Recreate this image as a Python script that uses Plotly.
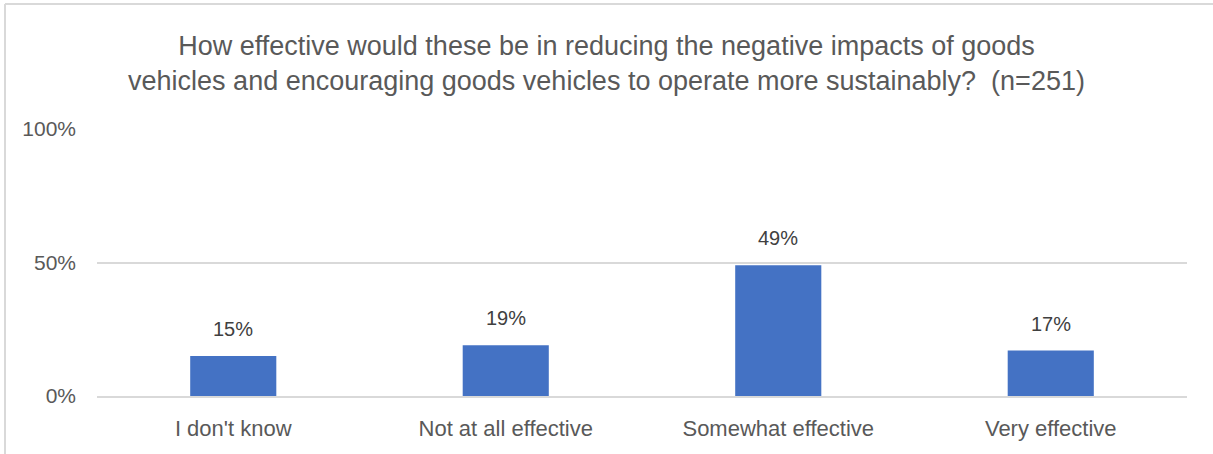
import plotly.graph_objects as go

categories = ["I don't know", "Not at all effective", "Somewhat effective", "Very effective"]
values = [15, 19, 49, 17]
labels = ["15%", "19%", "49%", "17%"]
tick_vals = [0, 50, 100]
tick_text = ["0%", "50%", "100%"]

grey = "#595959"
font = "Liberation Sans"

fig = go.Figure()
fig.add_trace(go.Bar(x=categories, y=values, marker=dict(color="#4472C4", line=dict(width=0)),
                     hoverinfo="skip"))

for c, v, t in zip(categories, values, labels):
    fig.add_annotation(x=c, y=v, text=t, showarrow=False, yanchor="middle", yshift=27,
                       font=dict(size=20, color="#404040", family=font))

fig.update_layout(
    width=1213, height=454,
    paper_bgcolor="white", plot_bgcolor="white",
    margin=dict(l=97, r=26, t=129, b=58),
    bargap=0.684,
    showlegend=False,
    font=dict(family=font, color=grey),
    title=dict(text="How effective would these be in reducing the negative impacts of goods<br>"
                    "vehicles and encouraging goods vehicles to operate more sustainably?  (n=251)",
               x=0.5, xanchor="center", y=1 - 55 / 454, yanchor="middle", yref="container",
               font=dict(size=27, color=grey, family=font)),
)
fig.update_yaxes(range=[0, 100], tickvals=tick_vals, ticktext=tick_text, showgrid=True,
                 gridcolor="#d9d9d9", gridwidth=2, zeroline=False, showline=False,
                 tickfont=dict(size=21, color=grey), ticklabelstandoff=20, fixedrange=True)
fig.update_xaxes(showline=True, linecolor="#d9d9d9", linewidth=2, ticks="",
                 tickfont=dict(size=22, color=grey), ticklabelstandoff=12)

# outer chart border (left and top edges visible)
fig.add_shape(type="line", xref="paper", yref="paper", x0=(5 - 97) / 1090, x1=(5 - 97) / 1090,
              y0=(396 - 460) / 267, y1=(396 - 4) / 267, line=dict(color="#d9d9d9", width=2))
fig.add_shape(type="line", xref="paper", yref="paper", x0=(5 - 97) / 1090, x1=(1220 - 97) / 1090,
              y0=(396 - 4) / 267, y1=(396 - 4) / 267, line=dict(color="#d9d9d9", width=2))

fig.write_html("out.html", config={"displayModeBar": False},
               post_script="document.body.style.margin='0';")
